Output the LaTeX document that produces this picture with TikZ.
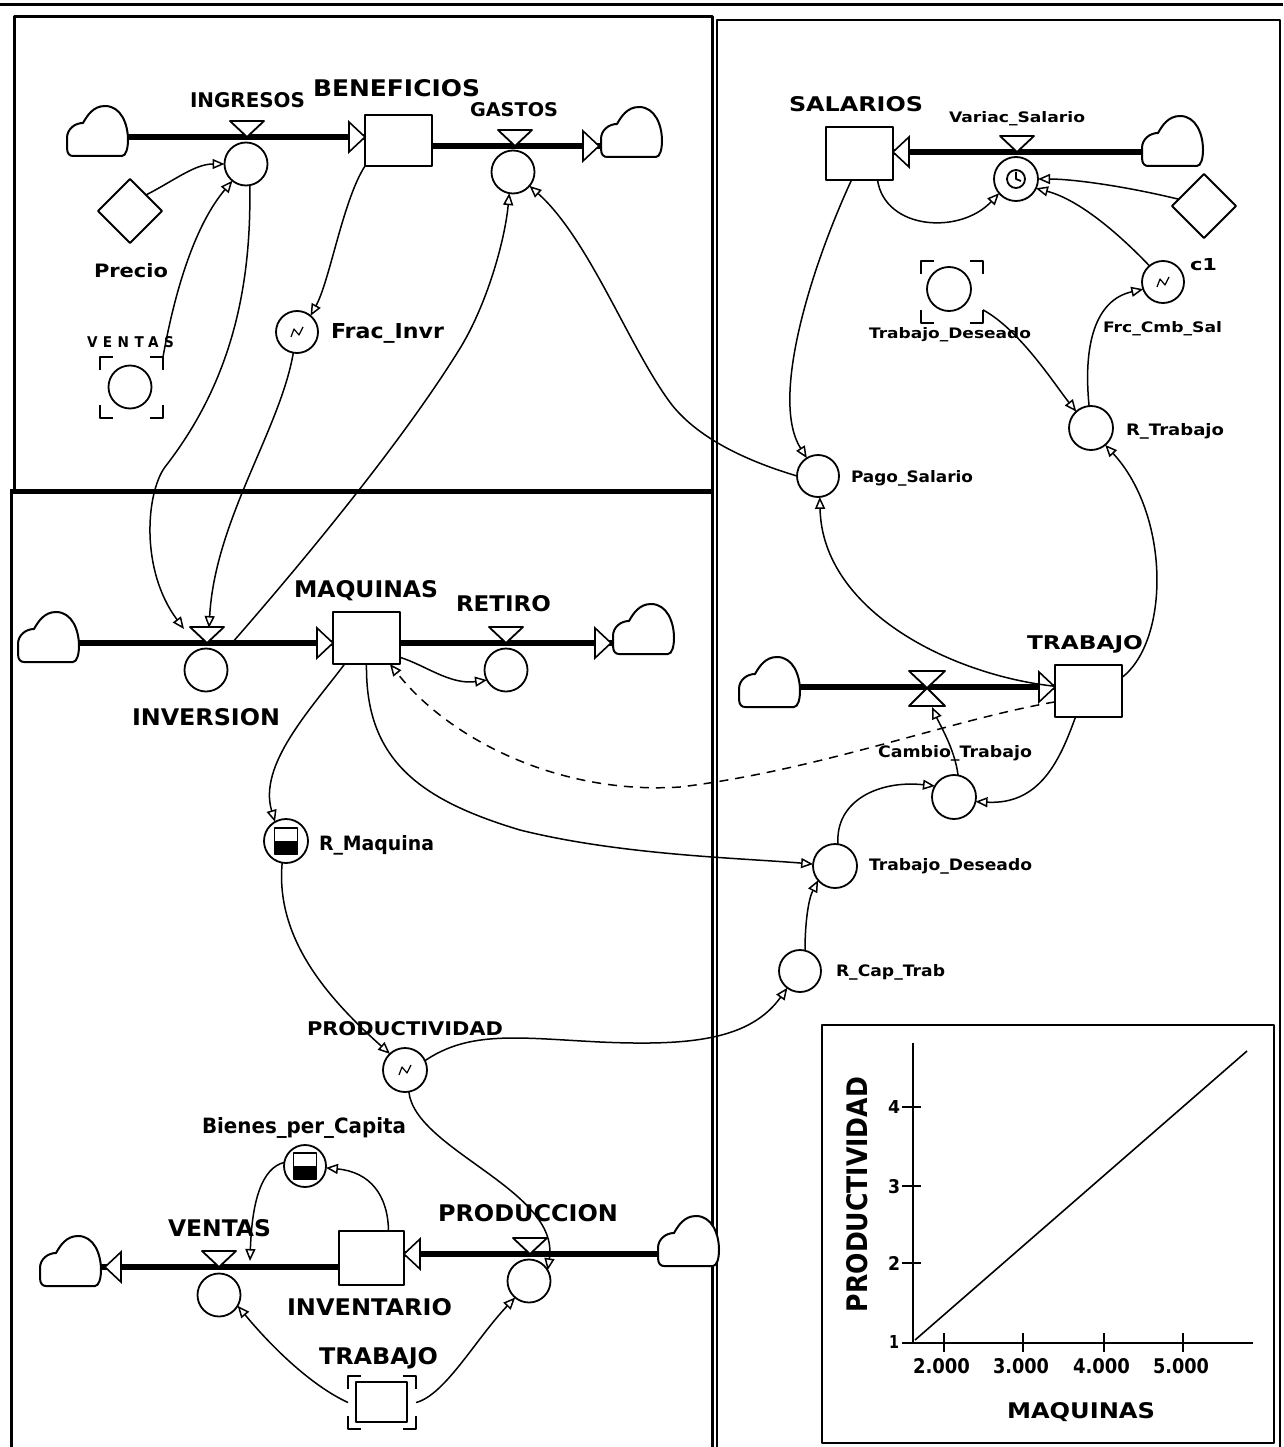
\documentclass[tikz,border=0pt]{standalone}
\usepackage{fontspec}
\usepackage{graphicx}
\setmainfont{DejaVu Sans}
\newfontfamily\spacedfont[LetterSpace=40]{DejaVu Sans}
\usetikzlibrary{arrows.meta,shapes.geometric,calc}
\newcommand\mylbl[6]{\node[lblnode] (#1) at (#2,#3) {\resizebox{#4pt}{#5pt}{\bfseries #6}};}
\newcommand\flowtip[2]{\draw[farr] ($(#1)+(#2*-16,-15)$) -- (#1) -- ($(#1)+(#2*-16,15)$) -- cycle;}
\newcommand\valvetri[1]{\draw[vtri] ($(#1)+(-17,-16)$) -- ($(#1)+(17,-16)$) -- (#1) -- cycle;}
\newcommand\ghostbrk[1]{%
  \draw[brk] ($(#1.north west)+(0,13)$) -- (#1.north west) -- ($(#1.north west)+(13,0)$);
  \draw[brk] ($(#1.north east)+(-13,0)$) -- (#1.north east) -- ($(#1.north east)+(0,13)$);
  \draw[brk] ($(#1.south west)+(0,-13)$) -- (#1.south west) -- ($(#1.south west)+(13,0)$);
  \draw[brk] ($(#1.south east)+(-13,0)$) -- (#1.south east) -- ($(#1.south east)+(0,-13)$);}
\tikzset{
  stock/.style={draw, line width=2.6, fill=white, rectangle, inner sep=0, outer sep=0},
  aux/.style={draw, line width=1.8, fill=white, circle, inner sep=0, outer sep=0, minimum size=#1},
  aux/.default=43,
  dmd/.style={draw, line width=1.8, fill=white, diamond, aspect=1, inner sep=0, outer sep=0, minimum width=64, minimum height=64},
  ghostb/.style={rectangle, inner sep=0, outer sep=0},
  brk/.style={line width=2.4},
  pipe/.style={line width=5.5},
  farr/.style={line width=1.6, fill=white, line join=miter},
  vtri/.style={line width=1.8, fill=white},
  link/.style={line width=1.5, -{Triangle[open, length=12pt, width=10pt]}},
  dlink/.style={link, dash pattern=on 9pt off 7pt},
  lblnode/.style={anchor=base west, inner sep=0, outer sep=0},
  frame/.style={line width=3},
  cloudpic/.pic={\draw[line width=2, fill=white] (-24,24) -- (25,24) .. controls (29,24) and (31,16) .. (31,8) .. controls (31,-8) and (24,-26) .. (8,-26) .. controls (-4,-26) and (-10,-16) .. (-14,-9) .. controls (-22,-9) and (-30,-3) .. (-30,6) -- (-30,16) .. controls (-30,22) and (-27,24) .. (-24,24) -- cycle;},
  squig/.pic={\draw[line width=1.2] (-6,5) -- (-3,-3) -- (2,3) -- (6,-5);},
  clockpic/.pic={\draw[line width=1.8] (0,0) circle[radius=9]; \draw[line width=1.8] (0,-7) -- (0,0) -- (5,2);},
  tablepic/.pic={\draw[line width=1.8] (-11.5,-13) rectangle (11.5,13); \fill (-11.5,0) rectangle (11.5,13);}
}
\begin{document}
\begin{tikzpicture}[x=1pt,y=-1pt,line join=round]
\useasboundingbox (0,0) rectangle (1283,1447);
\fill[white] (0,0) rectangle (1283,1447);
% frames
\draw[line width=3] (0,5) -- (1283,5);
\draw[frame] (14,491) -- (14,17) -- (712,17) -- (712,1450);
\draw[frame] (11,491) -- (11,1450);
\draw[line width=5] (10,491) -- (712,491);
\draw[line width=2.2] (717,1450) -- (717,20) -- (1280,20) -- (1280,1450);

% ---------- nodes ----------
\node[stock, minimum width=67, minimum height=51] (ben) at (398.5,140.5) {};
\node[stock, minimum width=67, minimum height=53] (sal) at (859.5,153.5) {};
\node[stock, minimum width=67, minimum height=52] (maq) at (366.5,638) {};
\node[stock, minimum width=67, minimum height=52] (trab) at (1088.5,691) {};
\node[stock, minimum width=65, minimum height=54] (inv) at (371.5,1258) {};
\node[stock, minimum width=51, minimum height=40] (tgh) at (381.5,1402) {};
\node[ghostb, minimum width=68, minimum height=53] (tgb) at (382,1402.5) {};
\ghostbrk{tgb}

\node[aux] (ing) at (246,164) {};
\node[aux] (gast) at (513,172) {};
\node[aux] (invn) at (206,670) {};
\node[aux] (ret) at (506,670) {};
\node[aux] (vent) at (219,1295) {};
\node[aux] (prodn) at (529,1281) {};
\node[aux=44] (var) at (1016,179) {};
\node[aux=44] (camb) at (954,797) {};

\node[aux=42] (frac) at (297,332) {};
\node[aux=44] (rmaq) at (286,841) {};
\node[aux=44] (prod) at (405,1070) {};
\node[aux=42] (bien) at (305,1166) {};
\node[aux=42] (cc) at (1163,282) {};
\node[aux=44] (rtr) at (1091,428) {};
\node[aux=42] (pago) at (818,476) {};
\node[aux=44] (tdl) at (835,866) {};
\node[aux=42] (rcap) at (800,971) {};
\node[aux=44] (tdg) at (949,289) {};
\node[ghostb, minimum width=62, minimum height=62] (tdb) at (952,292) {};
\ghostbrk{tdb}
\node[aux=43] (vgc) at (130,387) {};
\node[ghostb, minimum width=63, minimum height=61] (vg) at (131.5,387.5) {};
\ghostbrk{vg}

\node[dmd] (prec) at (130,211) {};
\node[dmd] (dia) at (1204,206) {};

% ---------- clouds / valve coordinates ----------
\coordinate (clA) at (97,137);
\coordinate (clB) at (631,146);
\coordinate (clC) at (48,643);
\coordinate (clD) at (643,643);
\coordinate (clE) at (70,1267);
\coordinate (clF) at (688,1254);
\coordinate (clG) at (1172,152);
\coordinate (clH) at (769,687);
\coordinate (ingv) at (247,137);
\coordinate (gasv) at (515,146);
\coordinate (invv) at (207,643);
\coordinate (retv) at (506,643);
\coordinate (ventv) at (219,1267);
\coordinate (prodv) at (530,1254);
\coordinate (varv) at (1017,152);
\coordinate (cambv) at (927,688);

% pipes
\draw[pipe] (clA) -- (clA -| ben.west);
\draw[pipe] (ben.east |- clB) -- (clB);
\draw[pipe] (clC) -- (clC -| maq.west);
\draw[pipe] (maq.east |- clD) -- (clD);
\draw[pipe] (inv.west |- clE) -- (clE);
\draw[pipe] (clF) -- (clF -| inv.east);
\draw[pipe] (clG) -- (clG -| sal.east);
\draw[pipe] (clH) -- (clH -| trab.west);

% clouds
\pic at ($(clA)+(0,-5)$) {cloudpic};
\pic at ($(clB)+(0,-13)$) {cloudpic};
\pic at ($(clC)+(0,-5)$) {cloudpic};
\pic at ($(clD)+(0,-13)$) {cloudpic};
\pic at ($(clE)+(0,-5)$) {cloudpic};
\pic at ($(clF)+(0,-12)$) {cloudpic};
\pic at ($(clG)+(0,-10)$) {cloudpic};
\pic at ($(clH)+(0,-4)$) {cloudpic};

% valve triangles
\valvetri{ingv}
\valvetri{gasv}
\valvetri{invv}
\valvetri{retv}
\valvetri{ventv}
\valvetri{prodv}
\valvetri{varv}
\draw[vtri] ($(cambv)+(-18,-17)$) -- ($(cambv)+(18,-17)$) -- (cambv) -- cycle;
\draw[vtri] ($(cambv)+(-18,18)$) -- ($(cambv)+(18,18)$) -- (cambv) -- cycle;

% flow arrowheads
\flowtip{clA -| ben.west}{1}
\flowtip{$(clB)+(-32,0)$}{1}
\flowtip{clC -| maq.west}{1}
\flowtip{$(clD)+(-32,0)$}{1}
\flowtip{$(clE)+(35,0)$}{-1}
\flowtip{clF -| inv.east}{-1}
\flowtip{clG -| sal.east}{-1}
\flowtip{clH -| trab.west}{1}

% link end coordinates
\coordinate (invt1) at (184,629);
\coordinate (invt2) at (209,628);
\coordinate (invt3) at (232,643);
\coordinate (ventA) at (250,1261);
\coordinate (cvb) at (932,707);

% ---------- links ----------
\draw[link] (ben.south west) .. controls (343,200) and (330,280) .. (frac.50);
\draw[link] (prec.north east) .. controls (175,180) and (195,164) .. (ing.west);
\draw[link] (vg.north east) .. controls (175,290) and (195,225) .. (ing.231);
\draw[link] (ing.-80) .. controls (252,300) and (225,390) .. (165,467) .. controls (146,493) and (140,570) .. (invt1);
\draw[link] (frac.-100) .. controls (280,430) and (215,520) .. (invt2);
\draw[link] (invt3) .. controls (300,565) and (400,445) .. (459,350) .. controls (487,305) and (505,240) .. (gast.-100);
\draw[link] (pago.west) .. controls (750,462) and (700,440) .. (672,405) .. controls (630,350) and (590,240) .. (gast.-40);

\draw[link] (maq.-30) .. controls (425,665) and (450,685) .. (ret.208);
\draw[link] (maq.230) .. controls (310,710) and (258,765) .. (rmaq.120);
\draw[link] (maq.south) .. controls (365,760) and (420,800) .. (520,830) .. controls (620,855) and (740,858) .. (tdl.175);
\draw[dlink] (trab.198) .. controls (950,720) and (820,770) .. (680,787) .. controls (560,795) and (450,740) .. (maq.-48);
\draw[link] (rmaq.-100) .. controls (275,940) and (330,1000) .. (prod.133);
\draw[link] (prod.25) .. controls (470,1030) and (520,1038) .. (600,1042) .. controls (690,1046) and (750,1040) .. (rcap.233);
\draw[link] (prod.-80) .. controls (415,1150) and (560,1190) .. (prodn.30);
\draw[link] ([xshift=17]inv.north) .. controls (388,1195) and (370,1172) .. (bien.-5);
\draw[link] (bien.170) .. controls (262,1168) and (252,1200) .. (ventA);
\draw[link] (tgb.west) .. controls (310,1385) and (270,1345) .. (vent.-30);
\draw[link] (tgb.east) .. controls (445,1395) and (475,1340) .. (prodn.230);

\draw[link] ([xshift=18]sal.south) .. controls (885,230) and (960,235) .. (var.220);
\draw[link] (dia.165) .. controls (1120,185) and (1070,179) .. (var.0);
\draw[link] (cc.130) .. controls (1120,235) and (1080,200) .. (var.-25);
\draw[link] ([xshift=-8]sal.south) .. controls (810,270) and (770,400) .. (pago.122);
\draw[link] (tdb.-30) .. controls (1020,330) and (1055,385) .. (rtr.132);
\draw[link] (rtr.95) .. controls (1083,345) and (1095,300) .. (cc.200);
\draw[link] (trab.22) .. controls (1170,640) and (1170,515) .. (rtr.-50);
\draw[link] (trab.172) .. controls (950,675) and (822,610) .. (pago.-85);
\draw[link] ([xshift=4]camb.north) .. controls (955,750) and (940,725) .. (cvb);
\draw[link] ([xshift=-13]trab.south) .. controls (1060,760) and (1040,805) .. (camb.-12);
\draw[link] ([xshift=3]tdl.north) .. controls (835,800) and (880,780) .. (camb.150);
\draw[link] ([xshift=5]rcap.north) .. controls (805,925) and (808,900) .. (tdl.220);

% icons
\pic at (frac) {squig};
\pic at (prod) {squig};
\pic at (cc) {squig};
\pic at (var) {clockpic};
\pic at (rmaq) {tablepic};
\pic at (bien) {tablepic};

% ---------- labels ----------
\mylbl{lBen}{313}{97}{167}{17}{BENEFICIOS}
\mylbl{lIng}{190}{108}{115}{15}{INGRESOS}
\mylbl{lGas}{470}{117}{88}{14}{GASTOS}
\mylbl{lSal}{789}{112}{134}{15}{SALARIOS}
\mylbl{lMaq}{294}{597}{144}{17}{MAQUINAS}
\mylbl{lRet}{456}{611}{95}{16}{RETIRO}
\mylbl{lInv}{132}{725}{148}{17}{INVERSION}
\mylbl{lTrab}{1027}{649}{116}{14}{TRABAJO}
\mylbl{lProd}{307}{1035}{196}{14}{PRODUCTIVIDAD}
\mylbl{lVen}{168}{1236}{103}{17}{VENTAS}
\mylbl{lPcn}{438}{1221}{180}{17}{PRODUCCION}
\mylbl{lInvt}{287}{1315}{165}{17}{INVENTARIO}
\mylbl{lTgh}{319}{1364}{119}{17}{TRABAJO}
\mylbl{lPrec}{94}{277}{74}{14}{Precio}
\node[lblnode] (lVg) at (87,347) {\resizebox{87pt}{11pt}{\spacedfont\bfseries VENTAS}};
\mylbl{lFrac}{331}{338}{113}{15}{Frac\_Invr}
\mylbl{lRmaq}{319}{850}{115}{15}{R\_Maquina}
\mylbl{lBien}{202}{1133}{204}{16}{Bienes\_per\_Capita}
\mylbl{lVar}{949}{123}{136}{11}{Variac\_Salario}
\mylbl{lc1}{1190}{270}{27}{12}{c1}
\mylbl{lFrc}{1103}{332}{119}{11}{Frc\_Cmb\_Sal}
\mylbl{lTdg}{869}{338}{162}{11}{Trabajo\_Deseado}
\mylbl{lRtr}{1126}{435}{98}{12}{R\_Trabajo}
\mylbl{lPago}{851}{482}{122}{12}{Pago\_Salario}
\mylbl{lCamb}{878}{757}{154}{12}{Cambio\_Trabajo}
\mylbl{lTdl}{869}{870}{163}{12}{Trabajo\_Deseado}
\mylbl{lRcap}{836}{976}{109}{12}{R\_Cap\_Trab}

% ---------- chart ----------
\draw[line width=2.5] (822,1025) rectangle (1274,1443);
\draw[line width=2.5] (913,1043) -- (913,1343);
\draw[line width=2.5] (902,1343) -- (1253,1343);
\foreach \yy in {1107,1186,1263} {\draw[line width=2.5] (902,\yy) -- (921,\yy);}
\foreach \xx in {944,1023,1104,1183} {\draw[line width=2.5] (\xx,1333) -- (\xx,1352);}
\draw[line width=1.6] (915,1340) -- (1247,1051);
\mylbl{cMaq}{1007}{1418}{148}{16}{MAQUINAS}
\node[lblnode, rotate=90] (cProd) at (867,1312) {\resizebox{235pt}{21pt}{\bfseries PRODUCTIVIDAD}};
\mylbl{cx2}{913}{1373}{57}{15}{2.000}
\mylbl{cx3}{993}{1373}{56}{15}{3.000}
\mylbl{cx4}{1073}{1373}{57}{15}{4.000}
\mylbl{cx5}{1153}{1373}{56}{15}{5.000}
\mylbl{cy4}{888}{1113}{12}{13}{4}
\mylbl{cy3}{888}{1193}{12}{14}{3}
\mylbl{cy2}{888}{1270}{12}{14}{2}
\mylbl{cy1}{889}{1348}{10}{13}{1}
\end{tikzpicture}
\end{document}
